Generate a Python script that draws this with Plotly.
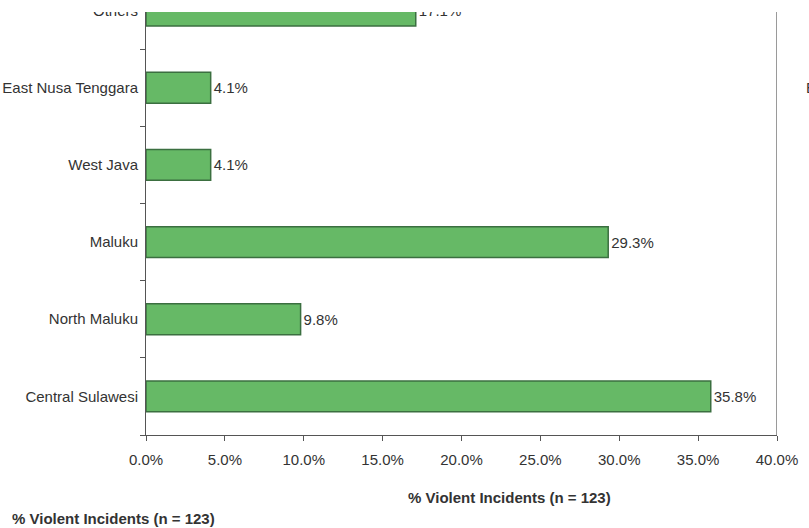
import plotly.graph_objects as go

# Share of violent incidents by province (n = 123)
regions = ["Central Sulawesi", "North Maluku", "Maluku", "West Java",
           "East Nusa Tenggara", "Others"]
shares = [35.8, 9.8, 29.3, 4.1, 4.1, 17.1]
x_ticks = [0, 5, 10, 15, 20, 25, 30, 35, 40]
x_tick_labels = ["0.0%", "5.0%", "10.0%", "15.0%", "20.0%", "25.0%",
                 "30.0%", "35.0%", "40.0%"]
axis_title = "% Violent Incidents (n = 123)"

FONT = "Liberation Sans, Arial, sans-serif"
FS = 15
TXT = "#333333"

W, H = 809, 528
L, R, T, B = 146, 32, 9, 93
plot_h = H - T - B

fig = go.Figure(
    go.Bar(
        y=regions,
        x=shares,
        orientation="h",
        width=0.4,
        marker=dict(color="#66b966", line=dict(color="#3b6f40", width=1.5)),
        text=[f"{v:.1f}%" for v in shares],
        textposition="outside",
        textfont=dict(family=FONT, size=FS, color=TXT),
        cliponaxis=False,
        hoverinfo="skip",
    )
)

fig.update_layout(
    width=W,
    height=H,
    margin=dict(l=L, r=R, t=T, b=B, pad=0),
    paper_bgcolor="white",
    plot_bgcolor="white",
    showlegend=False,
    font=dict(family=FONT, size=FS, color=TXT),
)

fig.update_xaxes(
    range=[0, 40],
    tickmode="array",
    tickvals=x_ticks,
    ticktext=x_tick_labels,
    showgrid=False,
    zeroline=False,
    showline=True,
    linecolor="#555555",
    linewidth=1,
    ticks="outside",
    ticklen=5,
    tickcolor="#555555",
    ticklabelstandoff=6,
    tickfont=dict(family=FONT, size=FS, color=TXT),
    automargin=False,
)

fig.update_yaxes(
    type="category",
    categoryorder="array",
    categoryarray=regions,
    range=[-0.5, 5.02],
    showgrid=False,
    zeroline=False,
    showline=True,
    linecolor="#555555",
    linewidth=1,
    ticks="outside",
    tickson="boundaries",
    ticklen=5,
    tickcolor="#555555",
    ticklabelstandoff=4,
    tickfont=dict(family=FONT, size=FS, color=TXT),
    automargin=False,
)

# right-hand frame edge
fig.add_shape(type="line", xref="x", yref="paper", x0=40, x1=40, y0=0, y1=1,
              line=dict(color="#9a9a9a", width=2), layer="above")
# blank strip across the top edge
fig.add_shape(type="rect", xref="paper", yref="paper", x0=-1, x1=2,
              y0=1 - 3 / plot_h, y1=1 + 20 / plot_h,
              fillcolor="white", line=dict(width=0), layer="above")

fig.add_annotation(text=f"<b>{axis_title}</b>", xref="paper", yref="paper",
                   x=(509 - L) / (W - L - R), y=-(497 - (H - B)) / plot_h,
                   xanchor="center", yanchor="middle", showarrow=False,
                   font=dict(family=FONT, size=FS, color=TXT))
fig.add_annotation(text=f"<b>{axis_title}</b>", xref="paper", yref="paper",
                   x=-(L - 10) / (W - L - R), y=-(518 - (H - B)) / plot_h,
                   xanchor="left", yanchor="middle", showarrow=False,
                   font=dict(family=FONT, size=FS, color=TXT))
fig.add_annotation(text="East Nusa Tenggara", xref="paper", yref="y",
                   x=(804 - L) / (W - L - R), y="East Nusa Tenggara",
                   xanchor="left", yanchor="middle", showarrow=False,
                   font=dict(family=FONT, size=FS, color=TXT))

fig.write_html("out.html")
